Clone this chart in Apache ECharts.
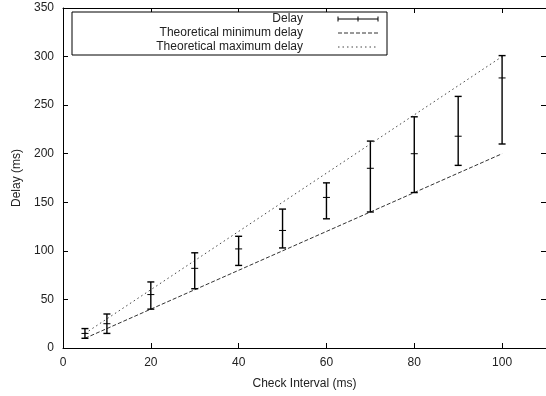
<!DOCTYPE html>
<html>
<head>
<meta charset="utf-8">
<script src="https://cdn.jsdelivr.net/npm/echarts@6/dist/echarts.min.js"></script>
<style>
html,body{margin:0;padding:0;background:#fff;}
#c{width:546px;height:396px;}
</style>
</head>
<body>
<div id="c"></div>
<script>
// Data
const checkInterval = [5, 10, 20, 30, 40, 50, 60, 70, 80, 90, 100];
const delayMean = [15, 25, 55, 82, 102, 121, 155, 185, 200, 218, 278];
const delayLow  = [10, 15, 40, 61, 85, 103, 133, 140, 160, 188, 210];
const delayHigh = [20, 35, 68, 98, 115, 143, 170, 213, 238, 259, 301];
const theoX = [5, 100];
const theoMin = [10, 200];
const theoMax = [15, 300];
const legendLabels = ['Delay', 'Theoretical minimum delay', 'Theoretical maximum delay'];
const xTicks = [0, 20, 40, 60, 80, 100];
const yTicks = [0, 50, 100, 150, 200, 250, 300, 350];

const FONT = 'Liberation Sans, Arial, Helvetica, sans-serif';
const chart = echarts.init(document.getElementById('c'), null, {renderer: 'canvas'});

const errData = checkInterval.map((x, i) => [x, delayLow[i], delayHigh[i], delayMean[i]]);

function tick() {
  return {show: true, inside: true, length: 5, lineStyle: {color: '#000', width: 1}};
}
function line() {
  return {show: true, onZero: false, lineStyle: {color: '#000', width: 1}};
}

const option = {
  animation: false,
  backgroundColor: '#fff',
  grid: {left: 63, top: 8, width: 485, height: 340, containLabel: false},
  xAxis: [
    {
      type: 'value', min: 0, max: 110, position: 'bottom',
      axisLine: line(), splitLine: {show: false},
      axisTick: Object.assign(tick(), {customValues: xTicks}),
      axisLabel: {show: true, customValues: xTicks, color: '#222', fontFamily: FONT, fontSize: 12, margin: 9},
      name: 'Check Interval (ms)', nameLocation: 'middle', nameGap: 30,
      nameTextStyle: {color: '#222', fontFamily: FONT, fontSize: 12}
    },
    {
      type: 'value', min: 0, max: 110, position: 'top',
      axisLine: line(), splitLine: {show: false},
      axisTick: Object.assign(tick(), {customValues: xTicks}),
      axisLabel: {show: false}
    }
  ],
  yAxis: [
    {
      type: 'value', min: 0, max: 350, position: 'left',
      axisLine: line(), splitLine: {show: false},
      axisTick: Object.assign(tick(), {customValues: yTicks}),
      axisLabel: {show: true, customValues: yTicks, color: '#222', fontFamily: FONT, fontSize: 12, margin: 9},
      name: 'Delay (ms)', nameLocation: 'middle', nameGap: 38, nameRotate: 90,
      nameTextStyle: {color: '#222', fontFamily: FONT, fontSize: 12}
    },
    {
      type: 'value', min: 0, max: 350, position: 'right',
      axisLine: line(), splitLine: {show: false},
      axisTick: Object.assign(tick(), {customValues: yTicks}),
      axisLabel: {show: false}
    }
  ],
  series: [
    {
      type: 'line', name: legendLabels[1], xAxisIndex: 0, yAxisIndex: 0,
      data: theoX.map((x, i) => [x, theoMin[i]]), symbol: 'none',
      lineStyle: {color: '#333', width: 1, type: [4, 2]}, z: 2
    },
    {
      type: 'line', name: legendLabels[2], xAxisIndex: 0, yAxisIndex: 0,
      data: theoX.map((x, i) => [x, theoMax[i]]), symbol: 'none',
      lineStyle: {color: '#444', width: 1, type: [1.5, 3]}, z: 2
    },
    {
      type: 'custom', name: legendLabels[0], xAxisIndex: 0, yAxisIndex: 0,
      data: errData, z: 3,
      renderItem: function (params, api) {
        const x = api.value(0);
        const lo = api.coord([x, api.value(1)]);
        const hi = api.coord([x, api.value(2)]);
        const mid = api.coord([x, api.value(3)]);
        const w = 3.5;
        const st = {stroke: '#000', lineWidth: 1.4};
        return {
          type: 'group',
          children: [
            {type: 'line', shape: {x1: lo[0], y1: lo[1], x2: hi[0], y2: hi[1]}, style: st},
            {type: 'line', shape: {x1: lo[0] - w, y1: lo[1], x2: lo[0] + w, y2: lo[1]}, style: st},
            {type: 'line', shape: {x1: hi[0] - w, y1: hi[1], x2: hi[0] + w, y2: hi[1]}, style: st},
            {type: 'line', shape: {x1: mid[0] - w, y1: mid[1], x2: mid[0] + w, y2: mid[1]}, style: {stroke: '#000', lineWidth: 1}}
          ]
        };
      }
    }
  ],
  graphic: [
    {type: 'rect', shape: {x: 72, y: 12, width: 315, height: 43},
      style: {fill: '#fff', stroke: '#000', lineWidth: 1}, z: 10},
    {type: 'text', x: 303, y: 19, style: {text: legendLabels[0], font: '12px ' + FONT, fill: '#222', align: 'right', verticalAlign: 'middle'}, z: 11},
    {type: 'text', x: 303, y: 33, style: {text: legendLabels[1], font: '12px ' + FONT, fill: '#222', align: 'right', verticalAlign: 'middle'}, z: 11},
    {type: 'text', x: 303, y: 47, style: {text: legendLabels[2], font: '12px ' + FONT, fill: '#222', align: 'right', verticalAlign: 'middle'}, z: 11},
    // legend samples
    {type: 'line', shape: {x1: 338, y1: 19, x2: 378, y2: 19}, style: {stroke: '#000', lineWidth: 1}, z: 11},
    {type: 'line', shape: {x1: 338, y1: 16.5, x2: 338, y2: 21.5}, style: {stroke: '#000', lineWidth: 1}, z: 11},
    {type: 'line', shape: {x1: 378, y1: 16.5, x2: 378, y2: 21.5}, style: {stroke: '#000', lineWidth: 1}, z: 11},
    {type: 'line', shape: {x1: 358, y1: 16.5, x2: 358, y2: 21.5}, style: {stroke: '#000', lineWidth: 1}, z: 11},
    {type: 'line', shape: {x1: 338, y1: 33, x2: 378, y2: 33}, style: {stroke: '#333', lineWidth: 1, lineDash: [4, 2]}, z: 11},
    {type: 'line', shape: {x1: 338, y1: 47, x2: 378, y2: 47}, style: {stroke: '#444', lineWidth: 1, lineDash: [1.5, 3]}, z: 11}
  ]
};
chart.setOption(option);
</script>
</body>
</html>
